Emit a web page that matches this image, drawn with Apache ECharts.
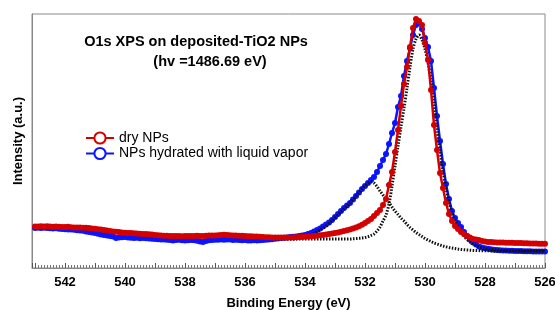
<!DOCTYPE html>
<html lang="en">
<head>
  <meta charset="UTF-8">
  <title>O1s XPS</title>
  <script src="https://cdn.jsdelivr.net/npm/echarts@6/dist/echarts.min.js"></script>
  <style>
    html, body { margin: 0; padding: 0; background: #fff; }
    #xps { width: 555px; height: 310px; }
  </style>
</head>
<body>
<div id="xps"></div>
<script>
  // binding energy grid (eV), spectra start at 543.0 and step down by 0.1
  var specStart = 543.0;
  var fitStart = 535.0;
  var step = 0.1;
  var xTicks = [542, 540, 538, 536, 534, 532, 530, 528, 526];
  var seriesNames = ['dry NPs', 'NPs hydrated with liquid vapor'];

  // dry NPs, 543.0 -> 526.0
  var dry = [
    41.5, 41.5, 41.7, 41.5, 41.8, 41.5, 41.3, 41.5, 41.2, 41,
    41, 41.2, 40.8, 40.5, 40.6, 40.5, 40.2, 40.3, 40, 39.5,
    39.2, 38.8, 38.5, 38, 37.5, 37, 36.6, 36.3, 36, 35.6,
    35.3, 35, 35, 34.7, 34.5, 34.3, 34, 34, 33.8, 33.5,
    33, 32.8, 32.5, 32.3, 32.2, 32, 32.1, 32, 32, 31.8,
    32, 32.1, 31.9, 32, 32.2, 32, 32, 32.3, 32.4, 32.5,
    32.5, 32.8, 33, 33.2, 33, 32.8, 32.6, 32.5, 32.3, 32.2,
    32, 31.8, 31.7, 31.5, 31.4, 31.2, 31, 30.8, 30.7, 30.6,
    30.5, 30.4, 30.4, 30.5, 30.4, 30.5, 30.6, 30.8, 30.9, 31,
    31.2, 31.4, 31.7, 32, 32.3, 32.7, 33.1, 33.6, 34, 34.5,
    35, 35.6, 36.2, 37, 37.8, 38.6, 39.5, 40.5, 41.8, 43.2,
    45, 47, 49, 52, 55, 58, 63, 69, 83, 96,
    116, 138, 162, 184, 201, 221, 240, 249, 247, 243,
    225, 208, 178, 143, 118, 95, 80, 65, 54, 47,
    42, 39, 36, 34, 32, 30.5, 29, 28.5, 28, 27,
    26.5, 26, 26, 25.8, 25.6, 25.5, 25.4, 25.3, 25.2, 25.2,
    25, 25, 25, 24.8, 24.8, 24.6, 24.6, 24.5, 24.3, 24.2,
    24.2
  ];

  // hydrated NPs, 543.0 -> 526.0
  var hydrated = [
    40, 40.2, 40, 40.3, 40, 39.8, 39.5, 39.7, 39.3, 39,
    38.8, 38.5, 38.6, 38.2, 37.8, 37.5, 37.2, 36.5, 36, 35.5,
    35, 34.2, 33.5, 33, 32.5, 32, 31.5, 30, 30.5, 30.8,
    31, 30.5, 30.3, 30, 30.2, 29.8, 30, 29.7, 29.5, 29.3,
    29, 28.7, 28.5, 28.6, 28.3, 28, 27.5, 28, 28.2, 27.8,
    27.5, 27.7, 28, 27.8, 27.2, 26.5, 26, 27, 27.8, 28,
    28.2, 28.3, 28.5, 28.3, 28.6, 28.4, 28, 28.2, 28, 27.8,
    28, 27.6, 27.4, 27.8, 27.5, 27.8, 28, 28.2, 28.5, 28.8,
    29.2, 29.5, 30, 30.3, 30.6, 31, 31.3, 31.6, 32, 32.5,
    33, 34, 35, 36.5, 38, 39.5, 41.5, 43.5, 45.5, 48,
    51, 54, 57, 60, 62.5, 65, 68.5, 72, 75.5, 79,
    82, 85, 88, 91, 96, 102, 108, 114, 124, 135,
    145, 161, 172, 192, 207, 220, 233, 243, 245, 239,
    230, 221, 207, 180, 152, 127, 104, 84, 69, 57,
    50, 45, 41, 36, 32, 28.5, 25.5, 23.5, 21.5, 20.5,
    19.8, 19.2, 18.7, 18.3, 18, 17.8, 17.6, 17.5, 17.3, 17.2,
    17, 17, 16.9, 16.8, 16.8, 16.7, 16.6, 16.6, 16.5, 16.5,
    16.4
  ];

  // fitted components (dotted), 535.0 -> 526.0
  var fitMain = [
    29, 29, 29, 29, 29, 29, 29, 29, 29, 29,
    29, 29, 29, 29, 29, 29, 29, 29, 29, 29,
    29, 29, 29, 29, 29, 29, 29.2, 29.4, 29.7, 30,
    30.5, 31.3, 32.5, 34, 37, 41, 47, 53, 64, 82,
    102, 122, 141, 160, 180, 201, 219, 229, 233, 228,
    219, 205, 188, 165, 140, 117, 97, 80, 66, 55,
    47, 41, 36, 32, 28.5, 26, 24, 22.5, 21.2, 20.3,
    19.6, 19, 18.6, 18.3, 18, 17.8, 17.6, 17.5, 17.4, 17.3,
    17.2, 17.2, 17.1, 17.1, 17, 17, 17, 17, 17, 17,
    17
  ];
  var fitSide = [
    29, 29, 29, 29, 29, 29, 29, 29.2, 29.5, 30,
    31, 32, 33, 34.5, 36, 38, 40, 42, 44.5, 47,
    50, 53, 56, 59, 62, 65, 68.5, 72, 75.5, 79,
    82, 84.5, 86, 85, 81.5, 77, 73, 69, 65.5, 61,
    57, 53.5, 50, 47, 43.5, 40.5, 38, 35.5, 33.5, 31.5,
    29.5, 28, 26.5, 25, 24, 23, 22, 21.2, 20.5, 20,
    19.5, 19, 18.6, 18.3, 18, 17.8, 17.6, 17.5, 17.4, 17.3,
    17.2, 17.2, 17.1, 17.1, 17, 17, 17, 17, 17, 17,
    17, 17, 17, 17, 17, 17, 17, 17, 17, 17,
    17
  ];

  function pairs(start, vals) {
    return vals.map(function (v, i) {
      return [+(start - i * step).toFixed(1), v];
    });
  }

  var red = '#d40000';
  var blue = '#0a14ff';

  var myChart = echarts.init(document.getElementById('xps'));
  var option = {
    animation: false,
    backgroundColor: '#fff',
    textStyle: { fontFamily: 'Liberation Sans, Arial, sans-serif' },
    grid: {
      left: 32, right: 10, top: 14, bottom: 42,
      outerBoundsMode: 'none',
      show: true, borderColor: '#8a8a8a', borderWidth: 1
    },
    graphic: [
      {
        type: 'text', x: 196, y: 42,
        style: {
          text: 'O1s XPS on deposited-TiO2 NPs', fill: '#000',
          font: 'bold 14.5px Liberation Sans, Arial, sans-serif',
          align: 'center', verticalAlign: 'middle'
        }
      },
      {
        type: 'text', x: 210, y: 62,
        style: {
          text: '(hv =1486.69 eV)', fill: '#000',
          font: 'bold 14.5px Liberation Sans, Arial, sans-serif',
          align: 'center', verticalAlign: 'middle'
        }
      }
    ],
    legend: {
      data: [
        { name: seriesNames[0], itemStyle: { color: '#fff', borderColor: red, borderWidth: 2 } },
        { name: seriesNames[1], itemStyle: { color: '#fff', borderColor: blue, borderWidth: 2 } }
      ],
      orient: 'vertical',
      left: 80, top: 126,
      itemWidth: 28, itemHeight: 14, itemGap: 1.5,
      textStyle: { fontSize: 14, color: '#000' }
    },
    xAxis: {
      type: 'value',
      inverse: true,
      min: 526, max: 543.1, interval: 1,
      name: 'Binding Energy (eV)',
      nameLocation: 'middle', nameGap: 29,
      nameTextStyle: { fontSize: 13, fontWeight: 'bold', color: '#000' },
      axisLine: { lineStyle: { color: '#8a8a8a' } },
      axisTick: { inside: true, length: 5, lineStyle: { color: '#555' } },
      minorTick: { show: true, splitNumber: 10, length: 3, lineStyle: { color: '#777' } },
      splitLine: { show: false },
      axisLabel: {
        margin: 8, fontSize: 13, fontWeight: 'bold', color: '#000',
        formatter: function (v) { return xTicks.indexOf(v) >= 0 ? String(v) : ''; }
      }
    },
    yAxis: {
      type: 'value',
      min: 0, max: 254,
      name: 'Intensity (a.u.)',
      nameLocation: 'middle', nameGap: 7,
      nameTextStyle: { fontSize: 13, fontWeight: 'bold', color: '#000' },
      axisLine: { show: true, lineStyle: { color: '#8a8a8a' } },
      axisTick: { show: false },
      axisLabel: { show: false },
      splitLine: { show: false }
    },
    series: [
      {
        name: seriesNames[1], type: 'line',
        data: pairs(specStart, hydrated),
        symbol: 'circle', symbolSize: 6,
        itemStyle: { color: blue },
        lineStyle: { color: blue, width: 2.5 },
        z: 2
      },
      {
        name: 'fit main', type: 'line',
        data: pairs(fitStart, fitMain),
        showSymbol: false, smooth: 0.3,
        lineStyle: { color: '#111', width: 3, type: [1.5, 1.5] },
        z: 3
      },
      {
        name: 'fit side', type: 'line',
        data: pairs(fitStart, fitSide),
        showSymbol: false, smooth: 0.3,
        lineStyle: { color: '#111', width: 3, type: [1.5, 1.5] },
        z: 3
      },
      {
        name: seriesNames[0], type: 'line',
        data: pairs(specStart, dry),
        symbol: 'circle', symbolSize: 6,
        itemStyle: { color: red },
        lineStyle: { color: red, width: 2.5 },
        z: 4
      }
    ]
  };

  option && myChart.setOption(option);
</script>
</body>
</html>
